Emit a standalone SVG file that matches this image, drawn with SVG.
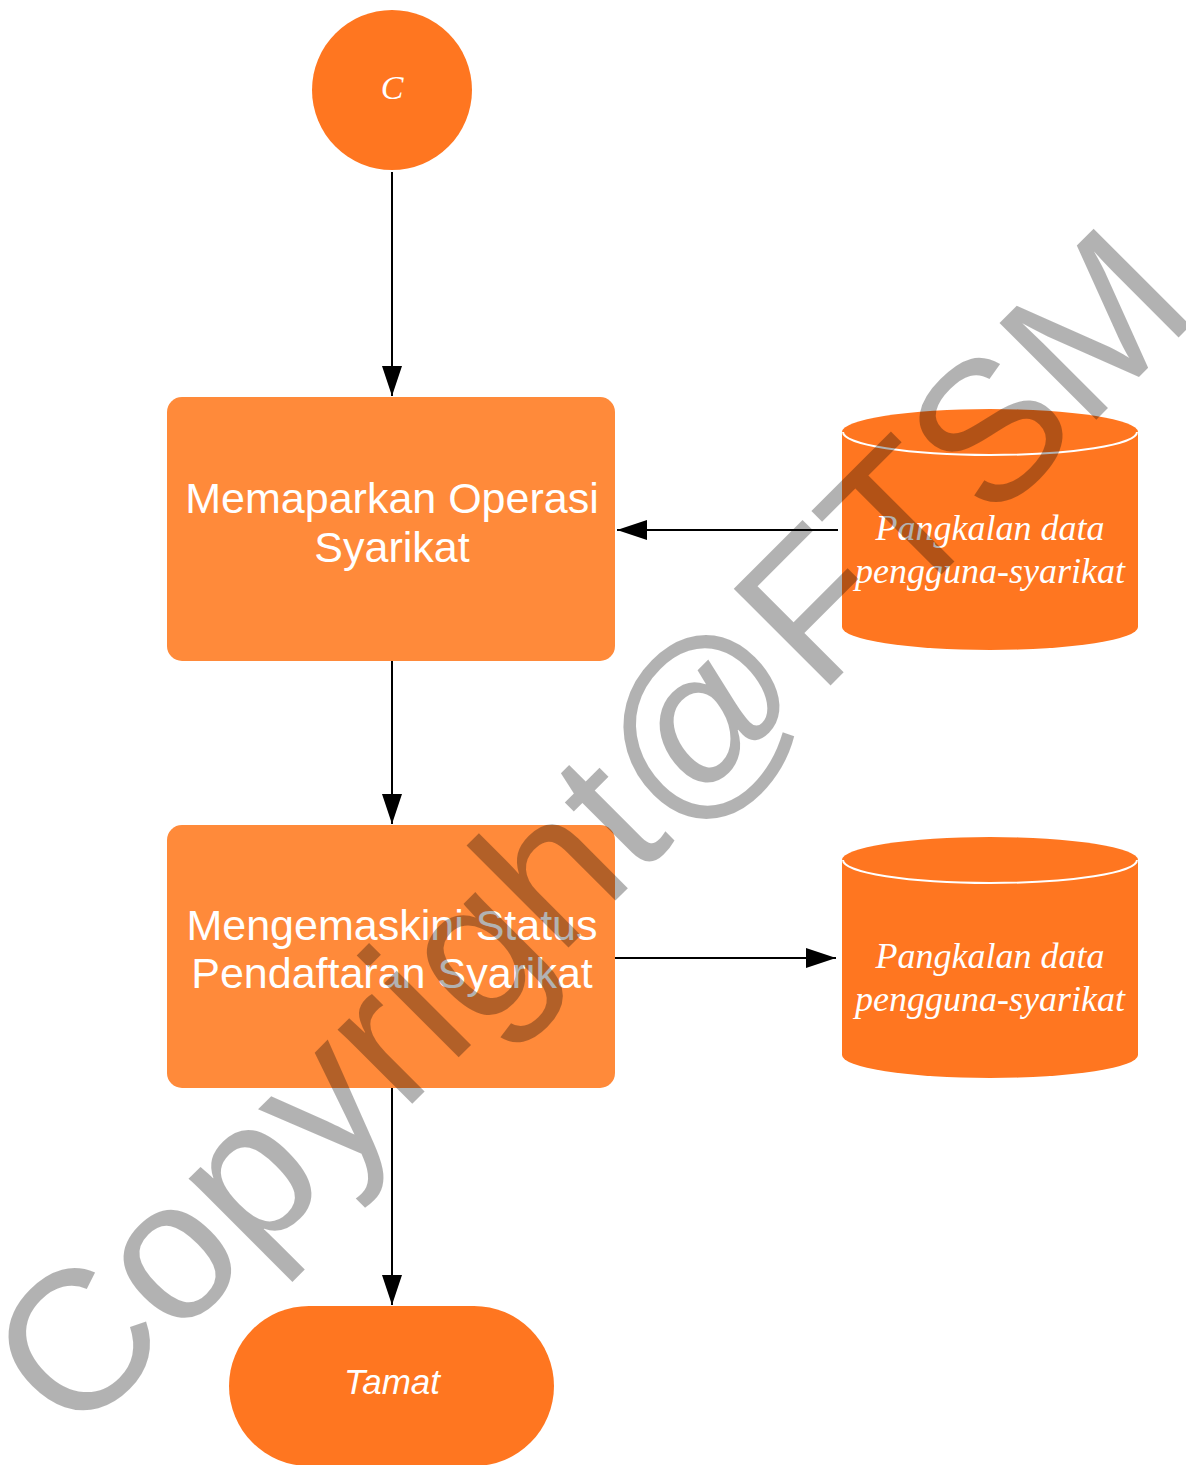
<svg xmlns="http://www.w3.org/2000/svg" width="1186" height="1465" viewBox="0 0 1186 1465">
<style>
.dark{fill:#FF7620;}
.light{fill:#FF8A3A;}
.sans{font-family:"Liberation Sans",Arial,sans-serif;fill:#FFFFFF;text-anchor:middle;}
.serif{font-family:"Liberation Serif","Times New Roman",serif;font-style:italic;fill:#FFFFFF;text-anchor:middle;}
.edge{stroke:#000000;stroke-width:2;fill:none;marker-end:url(#arrow);}
.rim{stroke:#FFFFFF;stroke-width:2;fill:none;}
.wm{font-family:"Liberation Sans",Arial,sans-serif;font-size:199px;fill:#000000;fill-opacity:0.3;text-anchor:middle;}
</style>
<defs>
<marker id="arrow" markerUnits="userSpaceOnUse" markerWidth="30" markerHeight="20" refX="30" refY="10" orient="auto" viewBox="0 0 30 20">
<path d="M0,0 L30,10 L0,20 Z" fill="#000000"/>
</marker>
</defs>
<rect width="1186" height="1465" fill="#FFFFFF"/>
<g id="connectors">
<line class="edge" x1="392" y1="172" x2="392" y2="396"/>
<line class="edge" x1="392" y1="661" x2="392" y2="824"/>
<line class="edge" x1="838" y1="530" x2="617" y2="530"/>
<line class="edge" x1="615" y1="958" x2="836" y2="958"/>
<line class="edge" x1="392" y1="1088" x2="392" y2="1305"/>
</g>
<g id="start-c">
<circle class="dark" cx="392" cy="90" r="80"/>
<text class="serif" x="392" y="99" font-size="34">C</text>
</g>
<g id="proc-memaparkan">
<rect class="light" x="167" y="397" width="448" height="264" rx="15"/>
<text class="sans" x="392" y="513" font-size="43">Memaparkan Operasi</text>
<text class="sans" x="392" y="562" font-size="43">Syarikat</text>
</g>
<g id="db-1">
<path class="dark" d="M842,432 A148,23 0 0 1 1138,432 L1138,627 A148,23 0 0 1 842,627 Z"/>
<path class="rim" d="M843,432 A147,23 0 0 0 1137,432"/>
<text class="serif" x="990" y="540" font-size="36">Pangkalan data</text>
<text class="serif" x="990" y="583" font-size="36">pengguna-syarikat</text>
</g>
<g id="proc-mengemaskini">
<rect class="light" x="167" y="825" width="448" height="263" rx="15"/>
<text class="sans" x="392" y="940" font-size="43">Mengemaskini Status</text>
<text class="sans" x="392" y="988" font-size="43">Pendaftaran Syarikat</text>
</g>
<g id="db-2">
<path class="dark" d="M842,860 A148,23 0 0 1 1138,860 L1138,1055 A148,23 0 0 1 842,1055 Z"/>
<path class="rim" d="M843,860 A147,23 0 0 0 1137,860"/>
<text class="serif" x="990" y="968" font-size="36">Pangkalan data</text>
<text class="serif" x="990" y="1011" font-size="36">pengguna-syarikat</text>
</g>
<g id="end-tamat">
<rect class="dark" x="229" y="1306" width="325" height="160" rx="80"/>
<text class="sans" x="392" y="1394" font-size="35" font-style="italic">Tamat</text>
</g>
<g id="watermark">
<text class="wm" transform="translate(638,878) rotate(-45)" x="0" y="0">Copyright@FTSM</text>
</g>
</svg>
